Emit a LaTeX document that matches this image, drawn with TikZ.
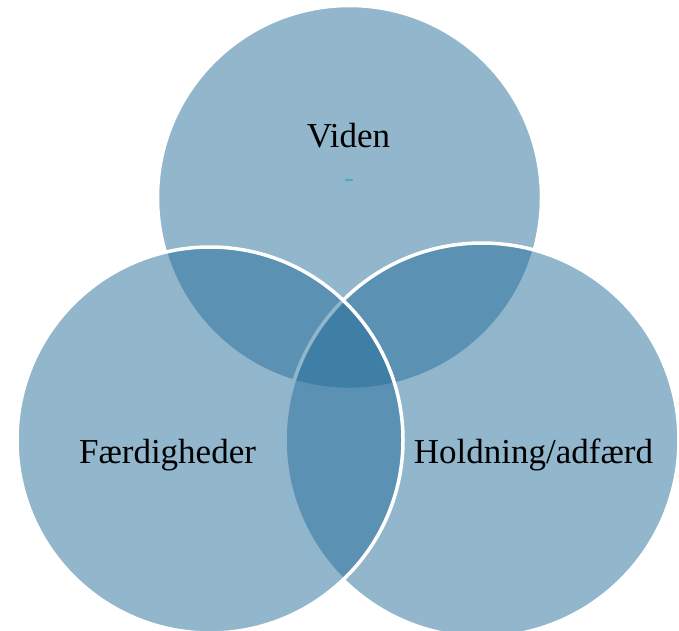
\documentclass[tikz,border=0pt]{standalone}
\usepackage{tikz}
\usepackage{xcolor}
\usepackage{fontspec}
\setmainfont{Liberation Serif}

\definecolor{vennblue}{RGB}{37,109,153}
\definecolor{dashblue}{RGB}{75,172,198}

\begin{document}
\begin{tikzpicture}[x=1pt, y=-1pt,
    venn/.style={circle, inner sep=0pt, draw=white, line width=3.5pt, fill=vennblue, fill opacity=0.5},
    lbl/.style={anchor=base, inner sep=0pt, font=\fontsize{35}{42}\selectfont}]
    \useasboundingbox (0,0) rectangle (679,630);

    % the three sets, drawn top, right, left
    \node[venn, minimum size=384pt] (viden) at (349.5,197.5) {};
    \node[venn, minimum size=394pt] (holdning) at (482,440) {};
    \node[venn, minimum size=386pt] (faerdig) at (210,440) {};

    \node[lbl] (videntxt) at (348.5,147) {Viden};
    \node[inner sep=0pt, text=dashblue, font=\fontsize{30}{34}\selectfont] (videndash) at (349,183.5) {-};
    \node[lbl] (faerdigtxt) at (167.5,463.5) {Færdigheder};
    \node[lbl] (holdningtxt) at (533.5,463.5) {Holdning/adfærd};
\end{tikzpicture}
\end{document}
